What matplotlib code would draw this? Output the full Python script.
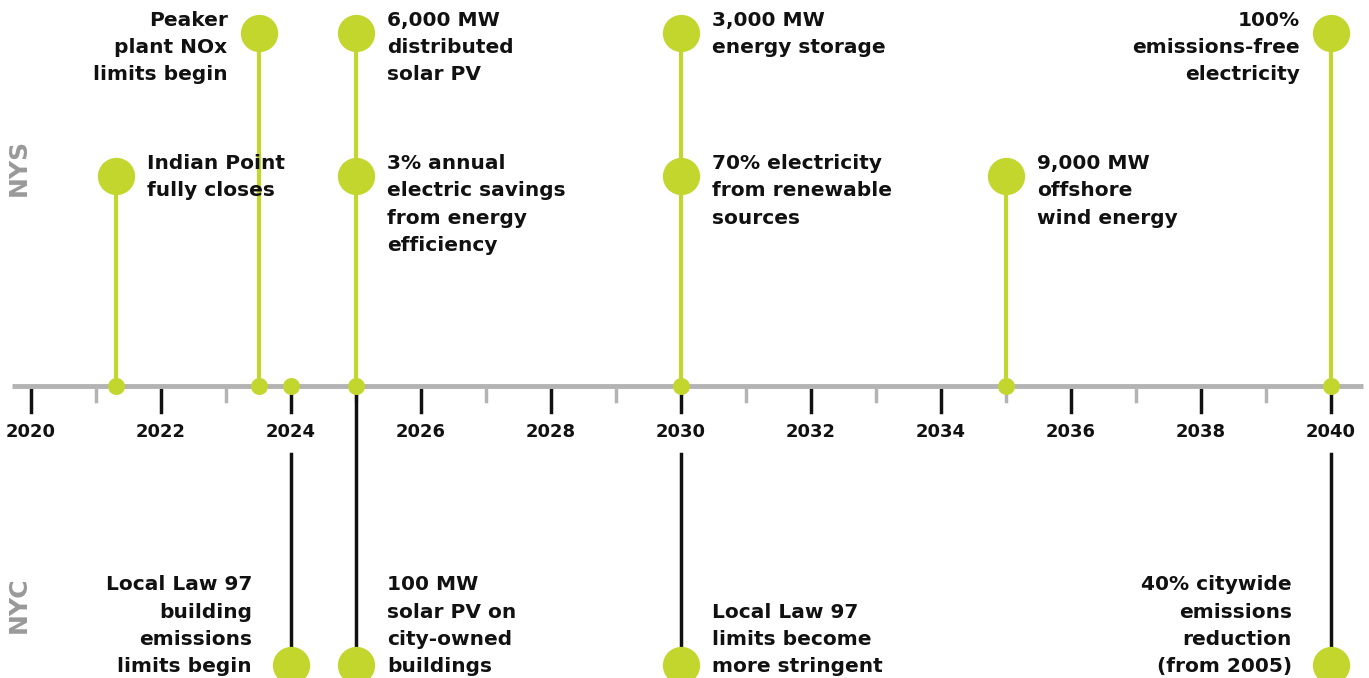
import matplotlib.pyplot as plt

# NYS milestones (above the axis)
nys_years = [2021.3, 2023.5, 2025, 2025, 2030, 2030, 2035, 2040]
nys_tier = ['low', 'high', 'high', 'low', 'high', 'low', 'low', 'high']
nys_labels = [
    'Indian Point\nfully closes',
    'Peaker\nplant NOx\nlimits begin',
    '6,000 MW\ndistributed\nsolar PV',
    '3% annual\nelectric savings\nfrom energy\nefficiency',
    '3,000 MW\nenergy storage',
    '70% electricity\nfrom renewable\nsources',
    '9,000 MW\noffshore\nwind energy',
    '100%\nemissions-free\nelectricity',
]
nys_side = ['right', 'left', 'right', 'right', 'right', 'right', 'right', 'left']

# NYC milestones (below the axis)
nyc_years = [2024, 2025, 2030, 2040]
nyc_labels = [
    'Local Law 97\nbuilding\nemissions\nlimits begin',
    '100 MW\nsolar PV on\ncity-owned\nbuildings',
    'Local Law 97\nlimits become\nmore stringent',
    '40% citywide\nemissions\nreduction\n(from 2005)',
]
nyc_side = ['left', 'right', 'right', 'left']

axis_dots = [2021.3, 2023.5, 2024, 2025, 2030, 2035, 2040]
major_years = list(range(2020, 2041, 2))
minor_years = list(range(2021, 2040, 2))

GREEN = '#c2d62e'
GRAY = '#b3b3b3'
FONT = 'DejaVu Sans'
TXT = dict(fontsize=14.5, fontweight='bold', family=FONT, linespacing=1.55, color='#111111')

fig = plt.figure(figsize=(13.69, 6.78), dpi=100)
ax = fig.add_axes([0, 0, 1, 1])
# x in years, y in pixels from the top
px = 65.0
ax.set_xlim(2020 - 31 / px, 2020 + (1369 - 31) / px)
ax.set_ylim(678, 0)
ax.axis('off')

AXIS_Y = 386
tier_y = {'high': 33, 'low': 176}
NYC_Y = 665
dx = 31 / px

# main axis line
ax.plot([2020 - 19 / px, 2040 + 32 / px], [AXIS_Y, AXIS_Y], color=GRAY, lw=3.5,
        solid_capstyle='butt', zorder=2)
for y in major_years:
    ax.plot([y, y], [390, 412], color='#111111', lw=2.5, zorder=1)
    ax.text(y, 432, str(y), ha='center', va='center', fontsize=13,
            fontweight='bold', family=FONT, color='#111111')
for y in minor_years:
    ax.plot([y, y], [390, 401], color=GRAY, lw=2.5, zorder=1)

# green stems
for yr in sorted(set(nys_years)):
    top = min(tier_y[t] for x, t in zip(nys_years, nys_tier) if x == yr)
    ax.plot([yr, yr], [AXIS_Y, top], color=GREEN, lw=3, zorder=3)

for yr, t, lab, side in zip(nys_years, nys_tier, nys_labels, nys_side):
    yy = tier_y[t]
    ax.scatter([yr], [yy], s=720, color=GREEN, zorder=5, linewidths=0)
    if side == 'right':
        ax.text(yr + dx, yy - 22, lab, ha='left', va='top', **TXT)
    else:
        ax.text(yr - dx, yy - 22, lab, ha='right', va='top', **TXT)

ax.scatter(axis_dots, [AXIS_Y] * len(axis_dots), s=150, color=GREEN, zorder=5, linewidths=0)

# black NYC stems
for yr, lab, side in zip(nyc_years, nyc_labels, nyc_side):
    start = AXIS_Y if yr % 2 else 454
    ax.plot([yr, yr], [start, NYC_Y], color='#111111', lw=2.5, zorder=3)
    ax.scatter([yr], [NYC_Y], s=720, color=GREEN, zorder=5, linewidths=0)
    if side == 'right':
        ax.text(yr + dx, 676, lab, ha='left', va='bottom', **TXT)
    else:
        ax.text(yr - 39 / px, 676, lab, ha='right', va='bottom', **TXT)

ax.text(2020 - 12 / px, 167, 'NYS', rotation=90, ha='center', va='center',
        fontsize=18, fontweight='bold', family=FONT, color='#999999')
ax.text(2020 - 12 / px, 605, 'NYC', rotation=90, ha='center', va='center',
        fontsize=18, fontweight='bold', family=FONT, color='#999999')

fig.savefig('out.png', dpi=100, facecolor='white')
